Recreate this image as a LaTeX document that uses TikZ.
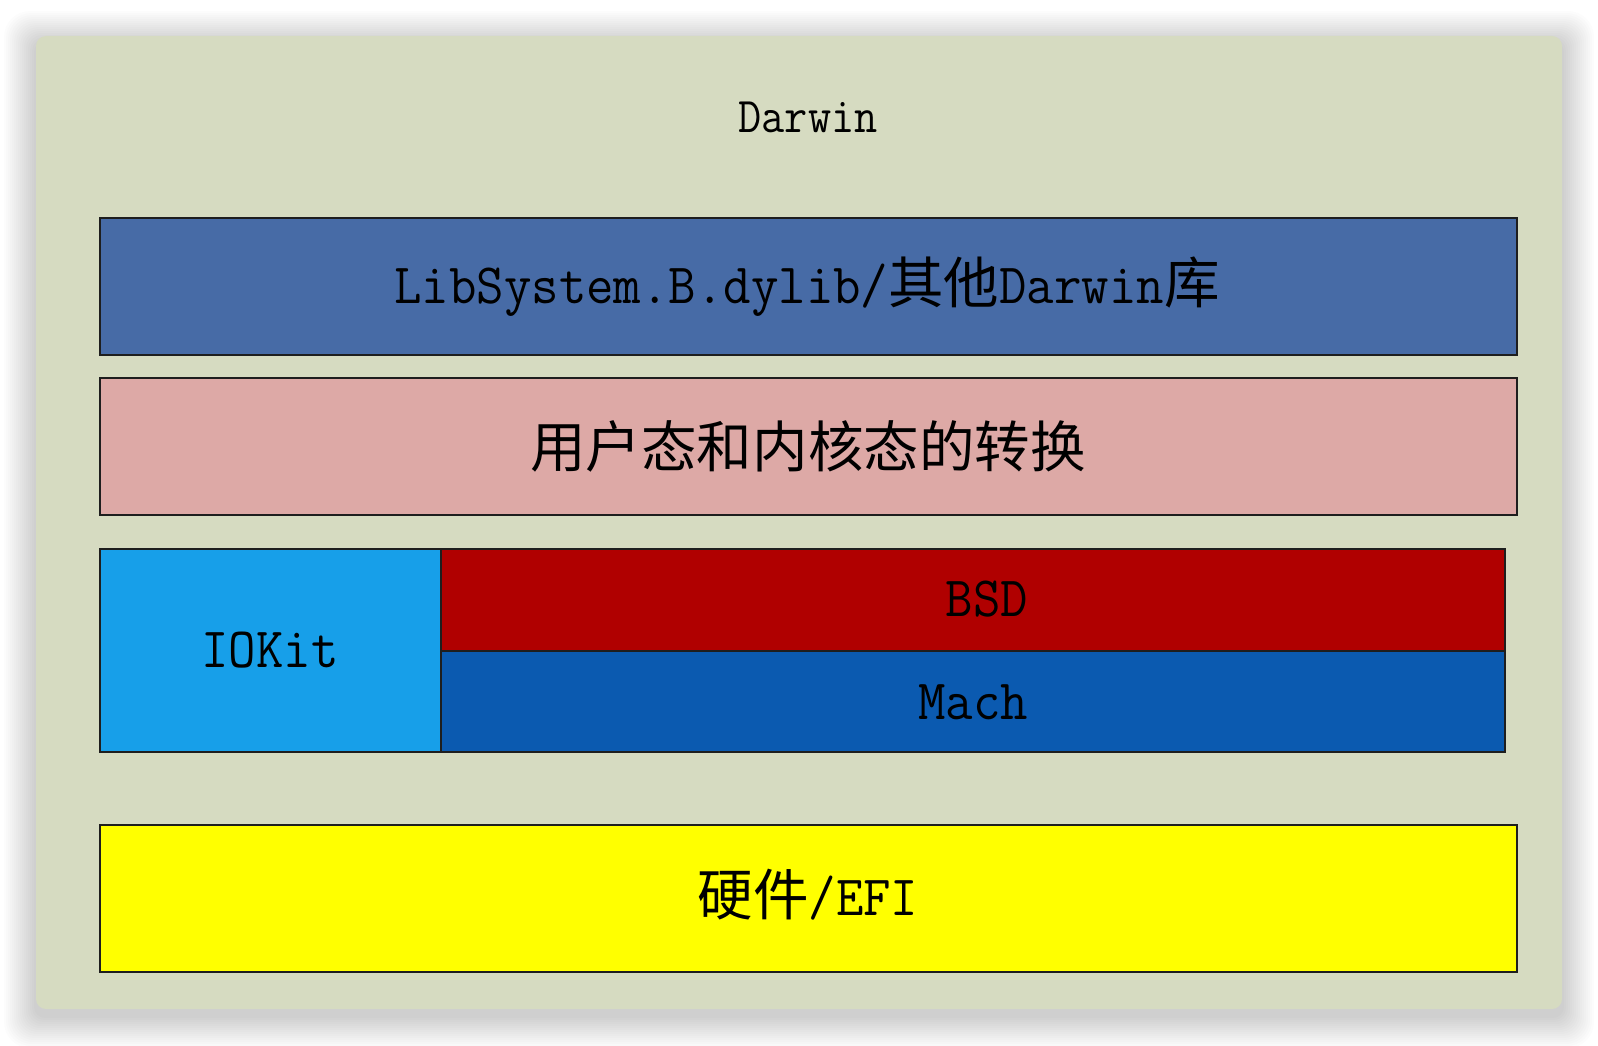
\documentclass[tikz,border=0pt]{standalone}
\usepackage{fontspec}
\newfontfamily\latin[FakeStretch=0.935]{Latin Modern Mono}
\newfontfamily\latintitle[FakeStretch=0.9]{Latin Modern Mono}
\newfontfamily\cjk[Scale=0.974]{Noto Sans CJK SC}
\newcommand\zh[1]{{\cjk #1}}
\definecolor{panelbg}{RGB}{214,219,193}
\definecolor{libblue}{RGB}{71,107,166}
\definecolor{pinkbox}{RGB}{221,169,166}
\definecolor{iokitblue}{RGB}{23,159,233}
\definecolor{bsdred}{RGB}{176,0,0}
\definecolor{machblue}{RGB}{11,90,176}
\definecolor{efiyellow}{RGB}{255,255,0}
\definecolor{edgecol}{RGB}{30,30,30}
\tikzset{
  layerbox/.style={draw=edgecol, line width=2pt, inner sep=0pt, outer sep=0pt, anchor=north west},
  bigtxt/.style={inner sep=0pt, font=\latin\fontsize{57}{64}\selectfont},
  titletxt/.style={inner sep=0pt, font=\latintitle\fontsize{50}{58}\selectfont},
}
\begin{document}
\begin{tikzpicture}[x=1pt,y=-1pt]
\useasboundingbox (0,0) rectangle (1598,1046);
\fill[white] (0,0) rectangle (1598,1046);
% soft shadow
\foreach \i in {1,...,16}{
  \pgfmathsetmacro\rr{10+\i}
  \fill[black, opacity=0.013, rounded corners=\rr pt]
    ({36-2*\i},{36-2*\i+7}) rectangle ({1562+2*\i},{1009+2*\i+7});
}
% panel
\node[fill=panelbg, rounded corners=10pt, inner sep=0pt, outer sep=0pt,
      minimum width=1526pt, minimum height=973pt, anchor=north west] (panel) at (36,36) {};
\node[titletxt, anchor=base] (darwin) at (808,132) {Darwin};
% layers
\node[layerbox, fill=libblue, minimum width=1417pt, minimum height=137pt] (lib) at (100,218) {};
\node[layerbox, fill=pinkbox, minimum width=1417pt, minimum height=137pt] (trans) at (100,378) {};
\node[layerbox, fill=iokitblue, minimum width=341pt, minimum height=203pt] (iokit) at (100,549) {};
\node[layerbox, fill=bsdred, minimum width=1064pt, minimum height=102pt] (bsd) at (441,549) {};
\node[layerbox, fill=machblue, minimum width=1064pt, minimum height=101pt] (mach) at (441,651) {};
\node[layerbox, fill=efiyellow, minimum width=1417pt, minimum height=147pt] (efi) at (100,825) {};
% texts
\node[bigtxt, anchor=base] (libtxt) at (807,303) {LibSystem.B.dylib/\zh{其他}Darwin\zh{库}};
\node[bigtxt] (transtxt) at (808,446) {\zh{用户态和内核态的转换}};
\node[bigtxt, anchor=base] (iokittxt) at (270,667) {IOKit};
\node[bigtxt, anchor=base] (bsdtxt) at (987,616) {BSD};
\node[bigtxt, anchor=base] (machtxt) at (973,719) {Mach};
\node[bigtxt, anchor=base] (efitxt) at (808,915) {\zh{硬件}/EFI};
\end{tikzpicture}
\end{document}
